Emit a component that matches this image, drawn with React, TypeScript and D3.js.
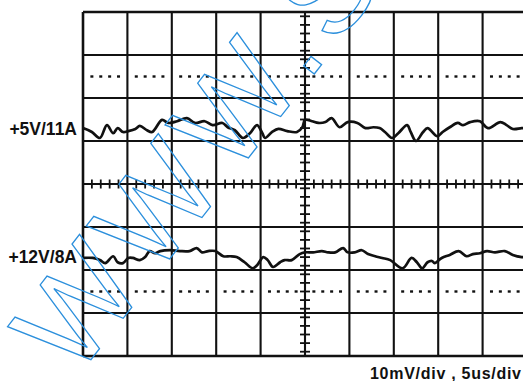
import * as d3 from 'd3';

// time axis: 5us/div, 10 divisions; voltage axis: 10mV/div, 8 divisions
const TIME_DOMAIN = [0, 50];
const VOLT_DOMAIN = [-40, 40];
const MAJOR_T = d3.range(0, 51, 5);
const MAJOR_V = d3.range(-40, 41, 10);
const MINOR_T = d3.range(1, 50, 1).filter(t => t % 5 !== 0);
const MINOR_V = d3.range(-39, 40, 2).filter(v => v !== 0);
const DOT_LEVELS = [25, -25];

const CH1_LABEL = '+5V/11A';
const CH2_LABEL = '+12V/8A';
const SCALE_LABEL = '10mV/div  ,  5us/div';

// [us, mV]
const ch1: [number, number][] = [
  [0, 13.0], [1.0, 12.1], [1.9, 10.7], [2.7, 13.7], [3.4, 11.8], [3.9, 13.0], [4.5, 12.1], [5.1, 12.3],
  [5.9, 12.8], [6.4, 13.5], [7.2, 12.5], [7.8, 12.1], [8.9, 14.9], [9.6, 14.2], [10.6, 14.6], [11.7, 15.3],
  [12.6, 14.2], [13.7, 14.6], [14.6, 13.7], [15.7, 14.2], [16.3, 13.2], [17.1, 12.5], [18.0, 10.7], [18.8, 11.8],
  [19.6, 13.7], [20.2, 11.8], [20.5, 10.7], [21.3, 12.1], [22.0, 12.8], [23.0, 12.3], [24.1, 12.1], [24.7, 13.2],
  [25.0, 14.9], [25.8, 14.6], [26.5, 14.2], [27.3, 14.4], [28.0, 15.3], [28.9, 13.2], [29.8, 14.4], [30.9, 14.2],
  [31.8, 13.0], [32.7, 13.2], [33.4, 13.0], [34.0, 12.1], [34.8, 10.7], [35.5, 11.8], [36.5, 13.7], [36.9, 12.1],
  [37.5, 10.0], [38.3, 12.1], [38.8, 13.0], [39.9, 11.1], [40.5, 12.1], [41.3, 13.2], [42.2, 14.2], [42.8, 13.7],
  [43.6, 14.4], [44.7, 14.6], [45.6, 13.0], [47.0, 14.4], [47.7, 13.7], [48.4, 12.8], [49.4, 13.0], [50, 13.0],
];

const ch2: [number, number][] = [
  [0, -17.2], [1.1, -17.2], [1.9, -17.7], [2.5, -18.4], [3.4, -16.8], [3.9, -18.2], [4.5, -18.4], [5.1, -17.2],
  [5.6, -17.2], [6.4, -17.7], [7.0, -17.0], [7.5, -15.6], [8.1, -16.1], [8.7, -15.6], [9.8, -15.4], [10.9, -15.6],
  [12.0, -15.6], [12.8, -14.9], [13.4, -15.9], [14.1, -15.6], [14.9, -15.6], [15.8, -16.8], [16.6, -16.8], [17.3, -17.0],
  [18.2, -18.2], [19.1, -19.6], [19.6, -18.9], [20.3, -17.0], [20.8, -17.7], [21.4, -19.3], [22.2, -18.2], [22.7, -17.7],
  [23.5, -17.7], [24.4, -16.3], [25.0, -15.9], [25.9, -15.9], [26.9, -15.6], [27.6, -15.9], [28.4, -15.9], [29.3, -14.9],
  [29.8, -15.9], [30.6, -15.9], [31.4, -15.4], [32.1, -16.3], [32.9, -16.8], [33.7, -17.2], [34.6, -17.7], [36.0, -19.6],
  [37.0, -17.2], [37.6, -18.2], [38.2, -19.6], [38.8, -18.2], [39.3, -17.9], [39.6, -18.4], [40.4, -17.2], [41.3, -16.5],
  [42.3, -15.6], [43.2, -16.8], [43.9, -16.3], [44.7, -16.1], [45.5, -15.6], [46.4, -15.9], [47.5, -15.6], [48.4, -16.5],
  [49.4, -17.0], [50, -17.0],
];

const W = 523, H = 381;
const INK = '#111';
const FONT = 'Liberation Sans, Arial, sans-serif';

export default function App() {
  const x = d3.scaleLinear().domain(TIME_DOMAIN).range([83, 527]);
  const y = d3.scaleLinear().domain(VOLT_DOMAIN).range([356, 12]);
  const line = d3.line<[number, number]>().x(d => x(d[0])).y(d => y(d[1])).curve(d3.curveCatmullRom.alpha(0.5));

  const x0 = x(25), y0 = y(0);

  return (
    <div style={{ position: 'absolute', left: 0, top: 0 }}>
      <svg width={W} height={H} viewBox={`0 0 ${W} ${H}`} style={{ display: 'block', background: '#fff' }}>
        {/* grid */}
        {MAJOR_T.map(t => (
          <line key={'vt' + t} x1={x(t)} x2={x(t)} y1={y(40)} y2={y(-40)}
            stroke={INK} strokeWidth={t === 0 || t === 50 ? 2.6 : 2.1} />
        ))}
        {MAJOR_V.map(v => (
          <line key={'hv' + v} x1={x(0)} x2={x(50)} y1={y(v)} y2={y(v)}
            stroke={INK} strokeWidth={v === 40 || v === -40 ? 2.6 : 2.1} />
        ))}

        {/* centre graticule minor ticks */}
        {MINOR_T.map(t => (
          <line key={'mt' + t} x1={x(t)} x2={x(t)} y1={y0 - 4.5} y2={y0 + 4.5} stroke={INK} strokeWidth={1.8} />
        ))}
        {MINOR_V.map(v => (
          <line key={'mv' + v} x1={x0 - 5} x2={x0 + 5} y1={y(v)} y2={y(v)} stroke={INK} strokeWidth={1.8} />
        ))}

        {/* dotted reference levels */}
        {DOT_LEVELS.map(lv => MINOR_T.map(t => (
          <rect key={'d' + lv + '-' + t} x={x(t) - 1.5} y={y(lv) - 1.2} width={3} height={2.4} fill={INK} />
        )))}

        {/* traces */}
        <path d={line(ch1) ?? ''} fill="none" stroke={INK} strokeWidth={2.7} strokeLinejoin="round" />
        <path d={line(ch2) ?? ''} fill="none" stroke={INK} strokeWidth={2.7} strokeLinejoin="round" />

        {/* labels */}
        <text x={77} y={135} textAnchor="end" fontFamily={FONT} fontWeight="bold" fontSize={17.5} fill={INK}>{CH1_LABEL}</text>
        <text x={77} y={263} textAnchor="end" fontFamily={FONT} fontWeight="bold" fontSize={17.5} fill={INK}>{CH2_LABEL}</text>
        <text x={370} y={379} fontFamily={FONT} fontWeight="bold" fontSize={16} fill={INK}
          textLength={151} lengthAdjust="spacing">{SCALE_LABEL}</text>

        {/* watermark */}
        <text transform="translate(75,380) rotate(-52)" fontFamily={FONT} fontSize={125} letterSpacing={10}
          fill="none" stroke="#2b8fdc" strokeWidth={1.3}>WWW.S</text>
      </svg>
    </div>
  );
}
